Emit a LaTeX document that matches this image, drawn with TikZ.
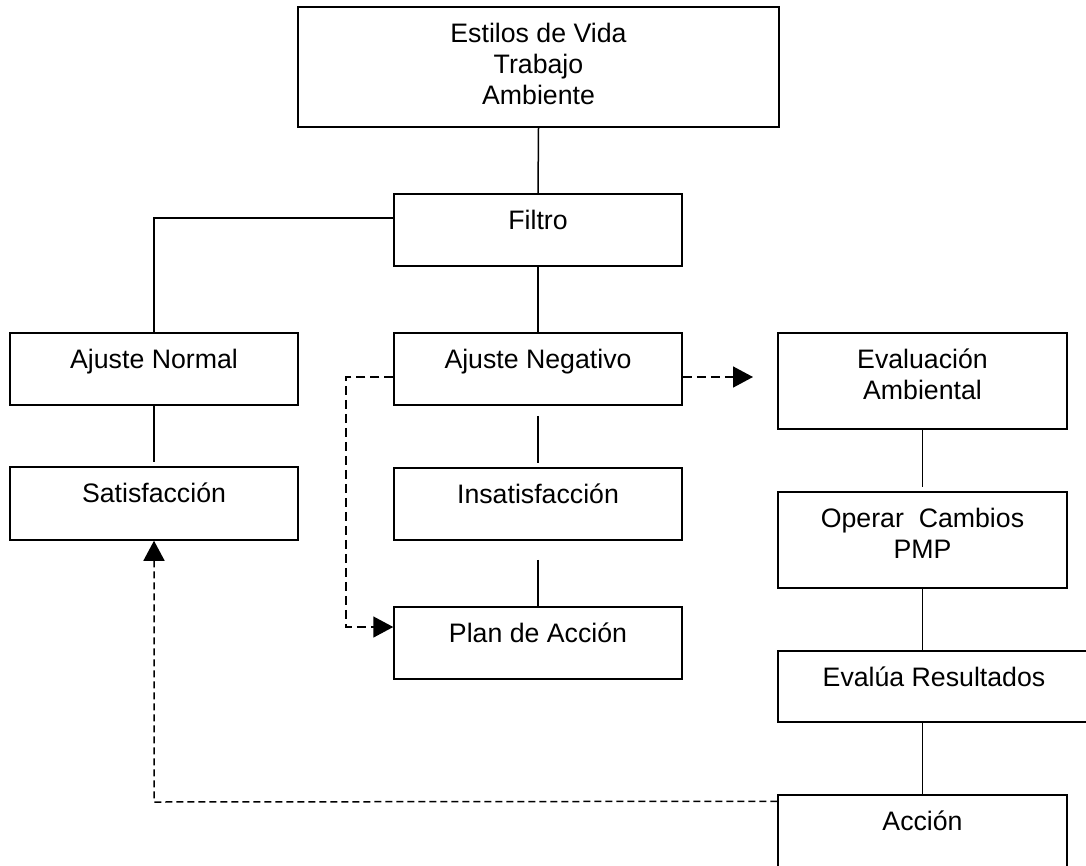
\documentclass[tikz,border=0pt]{standalone}
\usepackage{fontspec}
\setmainfont{Liberation Sans}
\usetikzlibrary{arrows.meta}
\newcommand{\boxtext}[3]{\parbox[c][#2][t]{#1}{\centering\rule{0pt}{35pt}#3}}
\tikzset{
  box/.style={draw, line width=1.5pt, inner sep=0pt, font=\fontsize{26.7pt}{31pt}\selectfont},
  conn/.style={line width=1.5pt},
  dconn/.style={line width=1.5pt, dash pattern=on 9pt off 5pt},
  dconnb/.style={line width=1.5pt, dash pattern=on 7pt off 4pt},
  arr/.style={-{Triangle[length=20pt,width=21pt]}}
}
\begin{document}
\begin{tikzpicture}[x=1pt,y=-1pt]
\clip (0,0) rectangle (1086,865);
\useasboundingbox (0,0) rectangle (1086,865);
\node[box] (top) at (538.5,67) {\boxtext{481pt}{120pt}{Estilos de Vida\\Trabajo\\Ambiente}};
\node[box] (fil) at (538,230) {\boxtext{288pt}{72pt}{Filtro}};
\node[box] (an) at (154,369) {\boxtext{288pt}{72pt}{Ajuste Normal}};
\node[box] (sat) at (154,503.5) {\boxtext{288pt}{73pt}{Satisfacción}};
\node[box] (aneg) at (538,369) {\boxtext{288pt}{72pt}{Ajuste Negativo}};
\node[box] (ins) at (538,504) {\boxtext{288pt}{72pt}{Insatisfacción}};
\node[box] (plan) at (538,643) {\boxtext{288pt}{72pt}{Plan de Acción}};
\node[box] (eva) at (922.5,381) {\boxtext{289pt}{96pt}{Evaluación\\Ambiental}};
\node[box] (ope) at (922.5,540) {\boxtext{289pt}{96pt}{Operar\ \ Cambios\\PMP}};
\node[box] (res) at (934,686.5) {\boxtext{312pt}{71pt}{Evalúa Resultados}};
\node[box] (acc) at (922.5,833) {\boxtext{289pt}{76pt}{Acción}};
\coordinate (d1) at (346,377);
\coordinate (d2) at (346,627);
\coordinate (e1) at (753,377);
\coordinate (s1) at (154,802);
% solid connectors
\draw[conn] (top.south) -- (fil.north);
\draw[conn] ([yshift=12pt]fil.west) -| (an.north);
\draw[conn] (fil.south) -- (aneg.north);
\draw[conn, shorten >=4pt] (an.south) -- (sat.north);
\draw[conn, shorten <=10pt, shorten >=4pt] (aneg.south) -- (ins.north);
\draw[conn, shorten <=19pt] (ins.south) -- (plan.north);
\draw[conn, shorten >=4pt] (eva.south) -- (ope.north);
\draw[conn] (ope.south) -- (res.north -| ope.south);
\draw[conn] (res.south -| acc.north) -- (acc.north);
% dashed connectors
\draw[dconn, arr] ([yshift=-8pt]aneg.west) -- (d1) -- (d2) -- ([yshift=16pt]plan.west);
\draw[dconn, arr] ([yshift=-8pt]aneg.east) -- (e1);
\draw[dconnb, arr] ([yshift=-7pt]acc.north west) -- (s1) -- (sat.south);
\end{tikzpicture}
\end{document}
